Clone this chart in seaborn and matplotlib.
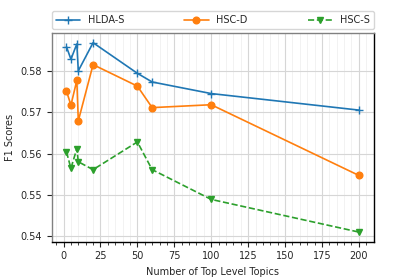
import matplotlib
import matplotlib.pyplot as plt
import pandas as pd
import seaborn as sns
from matplotlib.ticker import MultipleLocator

matplotlib.use("Agg")
sns.set_style("ticks")
plt.rcParams["font.family"] = ["DejaVu Sans"]
plt.rcParams["font.size"] = 7

TOPICS = [2, 5, 9, 10, 20, 50, 60, 100, 200]
HLDA_S = [0.5858, 0.5828, 0.5865, 0.5800, 0.5868, 0.5794, 0.5773, 0.5745, 0.5705]
HSC_D = [0.5751, 0.5717, 0.5777, 0.5679, 0.5815, 0.5763, 0.5711, 0.5718, 0.5547]
HSC_S = [0.5604, 0.5564, 0.5612, 0.5580, 0.5561, 0.5628, 0.5561, 0.5489, 0.5410]

SERIES = [
    ("HLDA-S", HLDA_S, "+", "-", 6),
    ("HSC-D", HSC_D, "o", "-", 4.8),
    ("HSC-S", HSC_S, "v", "--", 5),
]

fig, ax = plt.subplots(figsize=(4.15, 2.77), dpi=100)
palette = sns.color_palette("tab10")

for i, (name, values, marker, ls, ms) in enumerate(SERIES):
    df = pd.DataFrame({"topics": TOPICS, "score": values})
    sns.lineplot(
        data=df,
        x="topics",
        y="score",
        ax=ax,
        label=name,
        color=palette[i],
        marker=marker,
        linestyle=ls,
        markersize=ms,
        markeredgecolor=palette[i],
        markeredgewidth=1.0,
        linewidth=1.2,
    )

ax.xaxis.set_major_locator(MultipleLocator(25))
ax.xaxis.set_minor_locator(MultipleLocator(5))
ax.yaxis.set_major_locator(MultipleLocator(0.01))
ax.grid(which="major", color="#d6d6d6", linewidth=0.8)
ax.grid(which="minor", axis="x", color="#f0f0f0", linewidth=0.6)
ax.set_axisbelow(True)
ax.tick_params(which="major", length=3.5, width=0.8, labelsize=7)
ax.tick_params(which="minor", length=2, width=0.6)

for side in ["left", "top"]:
    ax.spines[side].set_color("#808080")
for side in ["bottom", "right"]:
    ax.spines[side].set_color("black")
for sp in ax.spines.values():
    sp.set_linewidth(1.0)

ax.set_xlabel("Number of Top Level Topics", fontsize=7)
ax.set_ylabel("F1 Scores", fontsize=7)
ax.legend(
    bbox_to_anchor=(0, 1.02, 1, 0.2),
    loc="lower left",
    mode="expand",
    ncol=3,
    borderaxespad=0,
    fontsize=7,
    handlelength=2.5,
)

fig.subplots_adjust(left=0.125, right=0.9, top=0.88, bottom=0.128)
fig.savefig("out.png", dpi=100)
plt.close(fig)
